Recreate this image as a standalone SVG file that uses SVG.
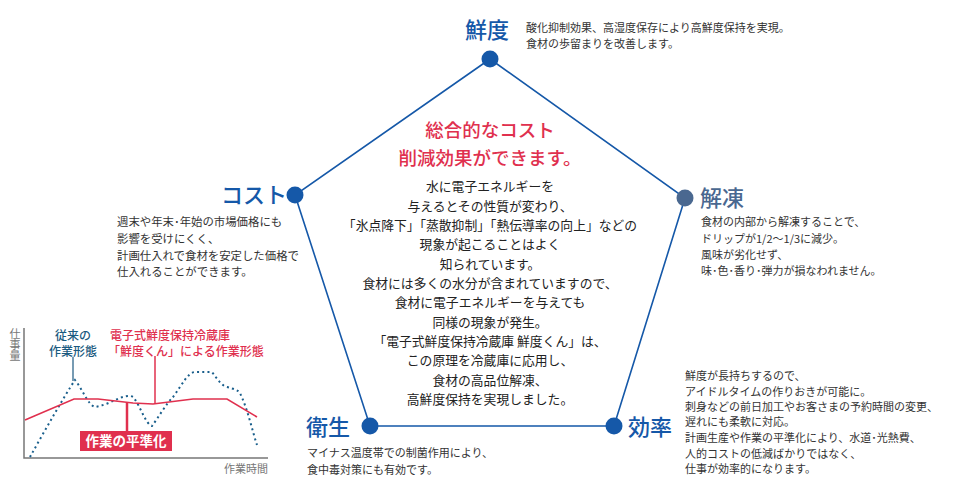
<svg xmlns="http://www.w3.org/2000/svg" width="960" height="485" viewBox="0 0 960 485">
<style>
text{font-family:"Noto Sans CJK JP","Noto Sans",sans-serif;}
.lbl{font-size:22px;fill:#1558a8;font-weight:500;}
.desc{font-size:11px;fill:#333;}
.body{font-size:12.8px;fill:#222;text-anchor:middle;}
.head{font-size:18.5px;fill:#e0304e;text-anchor:middle;font-weight:500;}
.edge{stroke:#1558a8;stroke-width:1.6;fill:none;}
.dot{fill:#1558a8;}
</style>
<rect width="960" height="485" fill="#fff"/>
<g id="connectors">
<polyline class="edge" points="490,59 685,198 614,426 370,426 295,195 490,59"/>
</g>
<g id="center">
<text class="head" x="490" y="137">総合的なコスト</text>
<text class="head" x="490" y="165">削減効果ができます。</text>
<text class="body" x="490" y="191">水に電子エネルギーを</text>
<text class="body" x="490" y="210.5">与えるとその性質が変わり、</text>
<text class="body" x="490" y="230">「氷点降下」「蒸散抑制」「熱伝導率の向上」などの</text>
<text class="body" x="490" y="249">現象が起こることはよく</text>
<text class="body" x="490" y="268.5">知られています。</text>
<text class="body" x="490" y="288">食材には多くの水分が含まれていますので、</text>
<text class="body" x="490" y="307">食材に電子エネルギーを与えても</text>
<text class="body" x="490" y="326.5">同様の現象が発生。</text>
<text class="body" x="490" y="346">「電子式鮮度保持冷蔵庫 鮮度くん」は、</text>
<text class="body" x="490" y="365">この原理を冷蔵庫に応用し、</text>
<text class="body" x="490" y="384.5">食材の高品位解凍、</text>
<text class="body" x="490" y="404">高鮮度保持を実現しました。</text>
</g>
<g id="node-sendo">
<circle class="dot" cx="490" cy="59" r="8.5"/>
<text class="lbl" x="465" y="38">鮮度</text>
<text class="desc" x="526" y="32">酸化抑制効果、高湿度保存により高鮮度保持を実現。</text>
<text class="desc" x="526" y="48">食材の歩留まりを改善します。</text>
</g>
<g id="node-kaito">
<circle cx="685" cy="198" r="8.5" fill="#4a6890"/>
<text class="lbl" x="700" y="206" style="fill:#4a6890">解凍</text>
<text class="desc" x="701" y="226">食材の内部から解凍することで、</text>
<text class="desc" x="701" y="243">ドリップが1/2〜1/3に減少。</text>
<text class="desc" x="701" y="259">風味が劣化せず、</text>
<text class="desc" x="701" y="275">味･色･香り･弾力が損なわれません。</text>
</g>
<g id="node-koritsu">
<circle class="dot" cx="614" cy="426" r="8.5"/>
<text class="lbl" x="628" y="435">効率</text>
<text class="desc" x="685" y="380">鮮度が長持ちするので、</text>
<text class="desc" x="685" y="396">アイドルタイムの作りおきが可能に。</text>
<text class="desc" x="685" y="411">刺身などの前日加工やお客さまの予約時間の変更、</text>
<text class="desc" x="685" y="426">遅れにも柔軟に対応。</text>
<text class="desc" x="685" y="442">計画生産や作業の平準化により、水道･光熱費、</text>
<text class="desc" x="685" y="458">人的コストの低減ばかりではなく、</text>
<text class="desc" x="685" y="473">仕事が効率的になります。</text>
</g>
<g id="node-eisei">
<circle class="dot" cx="370" cy="426" r="8.5"/>
<text class="lbl" x="306" y="435">衛生</text>
<text class="desc" x="307" y="457">マイナス温度帯での制菌作用により、</text>
<text class="desc" x="307" y="474">食中毒対策にも有効です。</text>
</g>
<g id="node-cost">
<circle class="dot" cx="295" cy="195" r="8.5"/>
<text class="lbl" x="221" y="203">コスト</text>
<text class="desc" x="117" y="226" style="font-size:11.4px">週末や年末･年始の市場価格にも</text>
<text class="desc" x="117" y="243" style="font-size:11.4px">影響を受けにくく、</text>
<text class="desc" x="117" y="260" style="font-size:11.4px">計画仕入れで食材を安定した価格で</text>
<text class="desc" x="117" y="276" style="font-size:11.4px">仕入れることができます。</text>
</g>
<g id="chart">
<polyline points="24,328 24,458 268,458" fill="none" stroke="#777" stroke-width="1.5"/>
<text x="15" y="328" font-size="11" fill="#777" style="writing-mode:vertical-rl">仕事量</text>
<text x="268" y="473" font-size="11" fill="#777" text-anchor="end">作業時間</text>
<path d="M30,457 C45,430 65,395 75,380 C83,390 88,405 95,407 C110,405 125,392 133,397 C140,405 146,425 152,426 C158,418 166,404 173,397 C182,385 188,372 195,372 L212,372 C218,380 222,386 227,387 C234,389 238,390 240,393 C248,410 252,430 257,445" fill="none" stroke="#1a5f8c" stroke-width="2" stroke-dasharray="2,3.2"/>
<polyline points="25,420 74,399 98,399 133,403 153,404 193,399 227,399 257,417" fill="none" stroke="#e0304e" stroke-width="1.6"/>
<line x1="73" y1="357" x2="73" y2="381" stroke="#4a7a9a" stroke-width="1.5"/>
<line x1="155" y1="356" x2="155" y2="404" stroke="#e0304e" stroke-width="1.5"/>
<line x1="127" y1="403" x2="127" y2="432" stroke="#e0304e" stroke-width="2.5"/>
<text x="73" y="340" font-size="12" fill="#1a5a80" text-anchor="middle" font-weight="500">従来の</text>
<text x="73" y="356" font-size="12" fill="#1a5a80" text-anchor="middle" font-weight="500">作業形態</text>
<text x="110" y="340" font-size="12" fill="#e0304e" font-weight="500">電子式鮮度保持冷蔵庫</text>
<text x="108" y="356" font-size="12" fill="#e0304e" font-weight="500">「鮮度くん」による作業形態</text>
<rect x="80" y="431" width="92" height="20" fill="#e0304e"/>
<text x="126" y="446" font-size="13.5" fill="#fff" font-weight="700" text-anchor="middle">作業の平準化</text>
</g>
</svg>
